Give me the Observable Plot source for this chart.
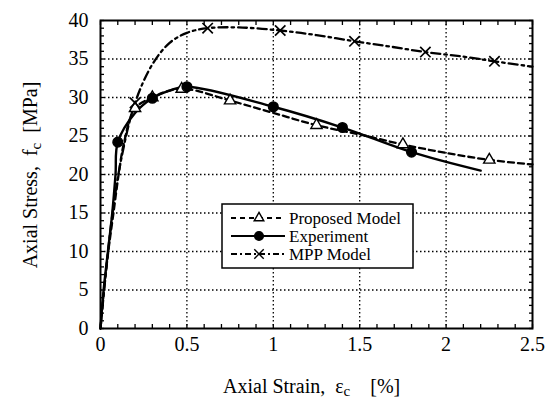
<!DOCTYPE html>
<html><head><meta charset="utf-8">
<script src="https://cdn.jsdelivr.net/npm/d3@7"></script>
<script src="https://cdn.jsdelivr.net/npm/@observablehq/plot@0.6"></script>
<style>body{margin:0;background:#fff}</style>
</head><body><div id="chart"></div>
<script>
// Experiment (solid line, filled circles)
const expStrain = [0, 0.018, 0.043, 0.068, 0.087, 0.1, 0.2, 0.3, 0.4, 0.5, 1.0, 1.4, 1.8, 2.2];
const expStress = [0, 5, 10, 15, 20, 24.2, 28.0, 29.9, 30.9, 31.4, 28.8, 26.1, 22.9, 20.5];
const expMarkStrain = [0.1, 0.3, 0.5, 1.0, 1.4, 1.8];
const expMarkStress = [24.2, 29.9, 31.4, 28.8, 26.1, 22.9];
// Proposed model (dashed, open triangles)
const propStrain = [0, 0.02, 0.045, 0.075, 0.105, 0.135, 0.2, 0.3, 0.4, 0.5, 0.75, 1.0, 1.25, 1.5, 1.75, 2.0, 2.25, 2.5];
const propStress = [0, 5, 10, 15, 20, 24, 28.6, 30.0, 30.9, 31.1, 29.6, 28.0, 26.4, 25.2, 23.9, 22.8, 21.9, 21.3];
const propMarkStrain = [0.2, 0.3, 0.47, 0.75, 1.25, 1.75, 2.25];
const propMarkStress = [28.6, 30.0, 31.1, 29.6, 26.4, 23.9, 21.9];
// MPP model (dash-dot, x marks)
const mppStrain = [0, 0.03, 0.07, 0.12, 0.2, 0.3, 0.4, 0.5, 0.62, 0.8, 1.04, 1.25, 1.47, 1.68, 1.88, 2.1, 2.28, 2.5];
const mppStress = [0, 7, 15, 22, 29.3, 34.3, 37.1, 38.4, 39.0, 39.1, 38.7, 38.1, 37.3, 36.6, 35.9, 35.3, 34.7, 34.0];
const mppMarkStrain = [0.2, 0.62, 1.04, 1.47, 1.88, 2.28];
const mppMarkStress = [29.3, 39.0, 38.7, 37.3, 35.9, 34.7];

const xMajor = [0, 0.5, 1, 1.5, 2, 2.5];
const xMinor = d3.range(0, 26).map(i => i / 10);
const yMajor = [0, 5, 10, 15, 20, 25, 30, 35, 40];
const yMinor = d3.range(0, 41);
const seriesNames = ["Proposed Model", "Experiment", "MPP Model"];

const zip = (xs, ys) => xs.map((x, i) => ({x, y: ys[i]}));
const exp = zip(expStrain, expStress), expM = zip(expMarkStrain, expMarkStress);
const prop = zip(propStrain, propStress), propM = zip(propMarkStrain, propMarkStress);
const mpp = zip(mppStrain, mppStress), mppM = zip(mppMarkStrain, mppMarkStress);

const dashProp = "6,4", dashMpp = "9,4,2.5,4";
const fmt = d => String(d);
const gridStyle = {stroke: "black", strokeOpacity: 1, strokeWidth: 1.3, strokeDasharray: "1.5,2.5"};

const chart = Plot.plot({
  width: 556, height: 401,
  marginLeft: 100, marginRight: 24, marginTop: 20, marginBottom: 73,
  x: {domain: [0, 2.5]},
  y: {domain: [0, 40]},
  style: {fontFamily: "Liberation Serif", fontSize: "20px", background: "white", color: "black"},
  marks: [
    Plot.gridX(xMajor.slice(1, -1), gridStyle),
    Plot.gridY(yMajor.slice(1, -1), gridStyle),
    Plot.axisX({anchor: "bottom", ticks: xMinor, tickSize: -4, tickFormat: () => "", label: null, strokeWidth: 1.3}),
    Plot.axisX({anchor: "top", ticks: xMinor, tickSize: -4, tickFormat: () => "", label: null, strokeWidth: 1.3}),
    Plot.axisY({anchor: "left", ticks: yMinor, tickSize: -4, tickFormat: () => "", label: null, strokeWidth: 1.3}),
    Plot.axisY({anchor: "right", ticks: yMinor, tickSize: -4, tickFormat: () => "", label: null, strokeWidth: 1.3}),
    Plot.axisX({anchor: "bottom", ticks: xMajor, tickSize: 0, tickPadding: 8, tickFormat: fmt, label: null, fontSize: 20}),
    Plot.axisY({anchor: "left", ticks: yMajor, tickSize: 0, tickPadding: 12, tickFormat: fmt, label: null, fontSize: 20}),
    Plot.line(prop, {x: "x", y: "y", curve: "catmull-rom", stroke: "black", strokeWidth: 2.3, strokeDasharray: dashProp}),
    Plot.line(mpp, {x: "x", y: "y", curve: "catmull-rom", stroke: "black", strokeWidth: 2.3, strokeDasharray: dashMpp}),
    Plot.line(exp, {x: "x", y: "y", curve: "catmull-rom", stroke: "black", strokeWidth: 2.4}),
    Plot.dot(propM, {x: "x", y: "y", symbol: "triangle", r: 4.2, fill: "white", stroke: "black", strokeWidth: 1.4}),
    Plot.dot(mppM, {x: "x", y: "y", symbol: "times", r: 4.8, stroke: "black", strokeWidth: 1.7}),
    Plot.dot(expM, {x: "x", y: "y", symbol: "circle", r: 4.8, fill: "black", stroke: "black"}),
    Plot.frame({stroke: "black", strokeWidth: 2})
  ]
});

const svg = d3.select(chart);
const xl = svg.append("text").attr("x", 223).attr("y", 393).attr("text-anchor", "start")
  .attr("font-family", "Liberation Serif").attr("font-size", 20).attr("fill", "black");
xl.append("tspan").text("Axial Strain,\u00A0\u00A0\u03B5");
xl.append("tspan").attr("font-size", 15).attr("dy", 3).text("c");
xl.append("tspan").attr("dy", -3).text("\u00A0\u00A0\u00A0\u00A0[%]");

const yl = svg.append("text").attr("transform", "translate(37,175) rotate(-90)").attr("text-anchor", "middle")
  .attr("font-family", "Liberation Serif").attr("font-size", 20).attr("fill", "black");
yl.append("tspan").text("Axial Stress,\u00A0\u00A0f");
yl.append("tspan").attr("font-size", 15).attr("dy", 4).text("c");
yl.append("tspan").attr("dy", -4).text("\u00A0\u00A0[MPa]");

const lg = svg.append("g");
lg.append("rect").attr("x", 222).attr("y", 204).attr("width", 191).attr("height", 64)
  .attr("fill", "white").attr("stroke", "black").attr("stroke-width", 1.5);
const rows = [
  {y: 218, dash: "5,4", sym: d3.symbolTriangle, fill: "white", size: 40},
  {y: 236, dash: null, sym: d3.symbolCircle, fill: "black", size: 60},
  {y: 254, dash: "6,3,2,3", sym: d3.symbolTimes, fill: "none", size: 60}
];
rows.forEach((r, i) => {
  lg.append("line").attr("x1", 231).attr("x2", 285).attr("y1", r.y).attr("y2", r.y)
    .attr("stroke", "black").attr("stroke-width", 2.2).attr("stroke-dasharray", r.dash);
  lg.append("path").attr("d", d3.symbol(r.sym, r.size)()).attr("transform", `translate(259,${r.y})`)
    .attr("fill", r.fill).attr("stroke", "black").attr("stroke-width", 1.4);
  lg.append("text").attr("x", 289).attr("y", r.y).attr("dy", "0.35em").attr("text-anchor", "start")
    .attr("font-family", "Liberation Serif").attr("font-size", 17).attr("fill", "black").text(seriesNames[i]);
});

document.getElementById("chart").appendChild(chart);
</script>
</body></html>
